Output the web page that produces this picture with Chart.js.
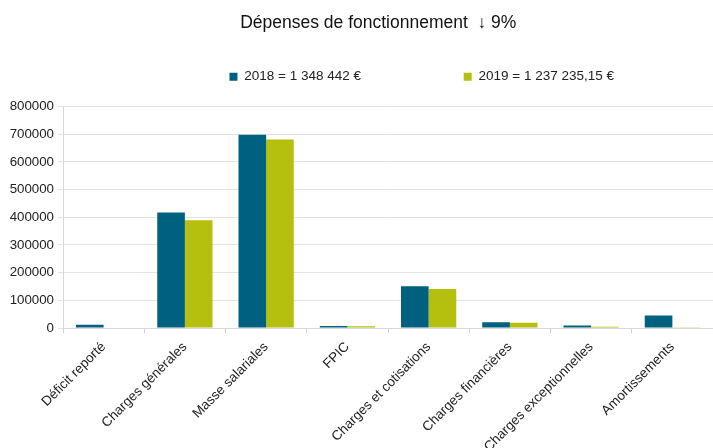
<!DOCTYPE html>
<html>
<head>
<meta charset="utf-8">
<script src="https://cdn.jsdelivr.net/npm/chart.js@4/dist/chart.umd.min.js"></script>
<style>
  html, body { margin: 0; padding: 0; background: #fff; }
</style>
</head>
<body>
<canvas id="chart" width="713" height="448"></canvas>
<script>
// categories and values
const categories = ['Déficit reporté', 'Charges générales', 'Masse salariales', 'FPIC',
  'Charges et cotisations', 'Charges financières', 'Charges exceptionnelles', 'Amortissements'];
const values2018 = [12000, 417000, 698000, 7500, 151000, 21000, 9000, 45000];
const values2019 = [0, 389000, 681000, 6500, 141000, 19000, 4500, 3000];
const seriesLabels = ['2018 = 1 348 442 €', '2019 = 1 237 235,15 €'];
const titleText = 'Dépenses de fonctionnement  ↓ 9%';

const FONT = "'Liberation Sans', Arial, sans-serif";
const nbsp = n => '\u00a0'.repeat(n);

// leave some room between the legend and the plot
const legendGap = {
    id: 'legendGap',
    afterInit(chart) {
        const fit = chart.legend.fit;
        chart.legend.fit = function () {
            fit.call(this);
            this.height += 13;
        };
    },
};

const ctx = document.getElementById('chart').getContext('2d');
new Chart(ctx, {
    type: 'bar',
    data: {
        labels: categories,
        datasets: [{
            label: seriesLabels[0],
            data: values2018,
            backgroundColor: '#00607f',
        }, {
            label: seriesLabels[1],
            data: values2019,
            backgroundColor: '#b4bf0e',
        }],
    },
    plugins: [legendGap],
    options: {
        responsive: false,
        animation: false,
        layout: { padding: 0 },
        categoryPercentage: 0.68,
        barPercentage: 1.0,
        plugins: {
            tooltip: { enabled: false },
            title: {
                display: true,
                text: titleText + nbsp(4),
                fullSize: false,
                color: '#111',
                font: { family: FONT, size: 17.5, weight: 'normal' },
                padding: { top: 13, bottom: 27 },
            },
            legend: {
                display: true,
                align: 'end',
                labels: {
                    color: '#222',
                    font: { family: FONT, size: 13.5 },
                    boxWidth: 8,
                    boxHeight: 8,
                    padding: 9,
                    generateLabels(chart) {
                        const items = Chart.defaults.plugins.legend.labels.generateLabels(chart);
                        items[0].text = items[0].text + nbsp(25);
                        items[1].text = items[1].text + nbsp(24);
                        items.forEach(it => { it.lineWidth = 0; });
                        return items;
                    },
                },
            },
        },
        scales: {
            x: {
                afterFit(scale) { scale.height = 120; },
                grid: {
                    display: true,
                    drawOnChartArea: false,
                    drawTicks: true,
                    tickLength: 5,
                    color: '#d0d0d0',
                },
                border: { display: true, color: '#d8d8d8' },
                ticks: {
                    minRotation: 45,
                    maxRotation: 45,
                    padding: 6,
                    color: '#222',
                    font: { family: FONT, size: 13.5 },
                },
            },
            y: {
                min: 0,
                max: 800000,
                afterFit(scale) { scale.width = 63; },
                grid: {
                    color: '#e3e3e3',
                    drawTicks: true,
                    tickLength: 5,
                },
                border: { display: true, color: '#d8d8d8' },
                ticks: {
                    stepSize: 100000,
                    padding: 4,
                    color: '#222',
                    font: { family: FONT, size: 13.3 },
                    callback: v => String(v),
                },
            },
        },
    },
});
</script>
</body>
</html>
